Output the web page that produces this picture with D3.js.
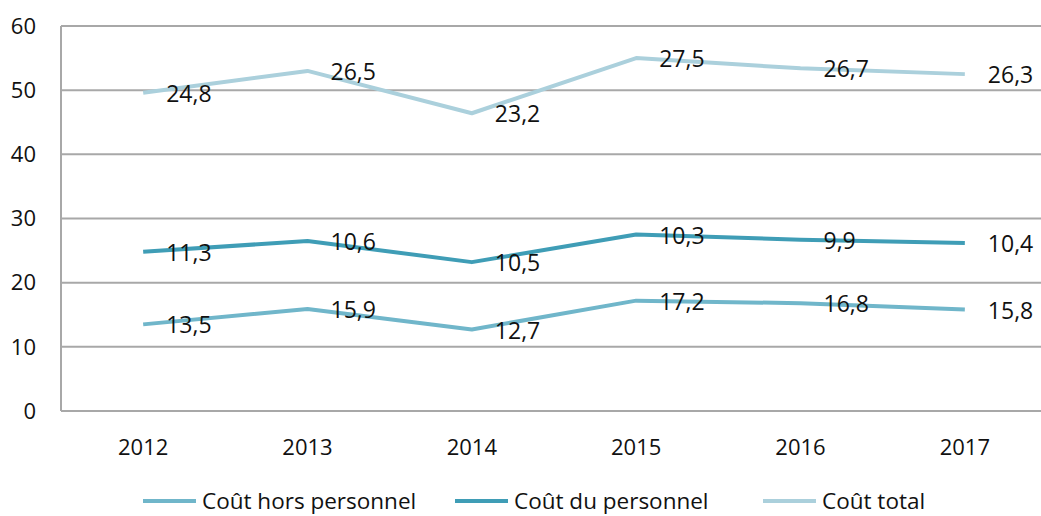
<!DOCTYPE html>
<html>
<head>
<meta charset="utf-8">
<script src="https://cdn.jsdelivr.net/npm/d3@7/dist/d3.min.js"></script>
<style>
  body { margin: 0; background: #fff; }
  text { font-family: "Open Sans", sans-serif; fill: #111; }
</style>
</head>
<body>
<svg id="svgcanvas" width="1041" height="516"></svg>
<script>

// categories (years)
var years = ["2012", "2013", "2014", "2015", "2016", "2017"];

// series values, as labelled on the chart
var coutHorsPersonnel = [13.5, 15.9, 12.7, 17.2, 16.8, 15.8];
var coutDuPersonnel   = [11.3, 10.6, 10.5, 10.3, 9.9, 10.4];
var coutTotal         = [24.8, 26.5, 23.2, 27.5, 26.7, 26.3];

var seriesNames  = ["Coût hors personnel", "Coût du personnel", "Coût total"];
var seriesColors = ["#70b6ca", "#3f9db6", "#abd0dc"];

var yTicks = [0, 10, 20, 30, 40, 50, 60];

var svg = d3.select("#svgcanvas");

// plot area (right edge runs past the window, like the original)
var plot = { left: 61, right: 1047, top: 26, bottom: 411 };

var x = d3.scalePoint()
  .domain(years)
  .range([plot.left, plot.right])
  .padding(0.5);

var y = d3.scaleLinear()
  .domain([0, 60])
  .range([plot.bottom, plot.top]);

// stacked line chart: each series sits on top of the previous one
var raw = [coutHorsPersonnel, coutDuPersonnel, coutTotal];
var stacked = [];
raw.forEach(function(vals, s) {
  stacked.push(vals.map(function(v, i) {
    var base = s > 0 ? stacked[s - 1][i].top : 0;
    return { year: years[i], val: v, top: base + v };
  }));
});

// gridlines
svg.append('g')
  .selectAll('line')
  .data(yTicks)
  .enter()
  .append('line')
  .attr('x1', plot.left)
  .attr('x2', plot.right)
  .attr('y1', function(d) { return y(d); })
  .attr('y2', function(d) { return y(d); })
  .attr('stroke', '#a8a8a8')
  .attr('stroke-width', 2);

// left axis line
svg.append('line')
  .attr('x1', plot.left).attr('x2', plot.left)
  .attr('y1', y(60)).attr('y2', y(0))
  .attr('stroke', '#a8a8a8')
  .attr('stroke-width', 2);

// y tick labels
svg.append('g')
  .selectAll('text')
  .data(yTicks)
  .enter()
  .append('text')
  .attr('x', 36)
  .attr('y', function(d) { return y(d); })
  .attr('dy', '0.35em')
  .attr('text-anchor', 'end')
  .attr('font-size', 22)
  .text(function(d) { return d; });

// x tick labels
svg.append('g')
  .selectAll('text')
  .data(years)
  .enter()
  .append('text')
  .attr('x', function(d) { return x(d); })
  .attr('y', 447)
  .attr('dy', '0.35em')
  .attr('text-anchor', 'middle')
  .attr('font-size', 22)
  .text(function(d) { return d; });

// lines
var line = d3.line()
  .x(function(d) { return x(d.year); })
  .y(function(d) { return y(d.top); });

svg.append('g')
  .selectAll('path')
  .data(stacked)
  .enter()
  .append('path')
  .attr('d', line)
  .attr('fill', 'none')
  .attr('stroke', function(d, i) { return seriesColors[i]; })
  .attr('stroke-width', 4)
  .attr('stroke-linejoin', 'round');

// data labels, to the right of each point
var fmt = function(v) { return d3.format('.1f')(v).replace('.', ','); };

stacked.forEach(function(series) {
  svg.append('g')
    .selectAll('text')
    .data(series)
    .enter()
    .append('text')
    .attr('x', function(d) { return x(d.year) + 23; })
    .attr('y', function(d) { return y(d.top) + 1; })
    .attr('dy', '0.35em')
    .attr('font-size', 23)
    .text(function(d) { return fmt(d.val); });
});

// legend
var legendX = [143, 455, 763];
var legend = svg.append('g')
  .selectAll('g')
  .data(seriesNames)
  .enter()
  .append('g')
  .attr('transform', function(d, i) { return 'translate(' + legendX[i] + ',501)'; });

legend.append('line')
  .attr('x1', 0).attr('x2', 53)
  .attr('y1', 0).attr('y2', 0)
  .attr('stroke', function(d, i) { return seriesColors[i]; })
  .attr('stroke-width', 4);

legend.append('text')
  .attr('x', 59)
  .attr('y', 0)
  .attr('dy', '0.35em')
  .attr('font-size', 22.5)
  .text(function(d) { return d; });

</script>
</body>
</html>
